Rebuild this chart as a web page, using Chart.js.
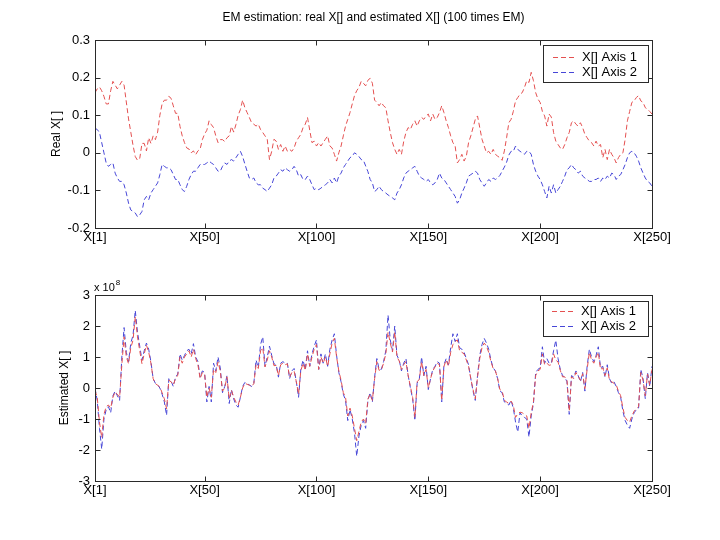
<!DOCTYPE html>
<html><head><meta charset="utf-8">
<script src="https://cdn.jsdelivr.net/npm/chart.js@4/dist/chart.umd.min.js"></script>
<style>
html,body{margin:0;padding:0;background:#fff;width:720px;height:540px;overflow:hidden}
.wrap{position:absolute;left:0;width:720px}
</style></head><body>
<div class="wrap" style="top:0;height:265px"><canvas id="c1" width="720" height="265"></canvas></div>
<div class="wrap" style="top:265px;height:275px"><canvas id="c2" width="720" height="275"></canvas></div>
<script>
const titleText = 'EM estimation: real X[] and estimated X[] (100 times EM)';
const seriesNames = ['X[] Axis 1', 'X[] Axis 2'];
const xTickValues = [1, 50, 100, 150, 200, 250];
const topYTicks = [-0.2, -0.1, 0, 0.1, 0.2, 0.3];
const bottomYTicks = [-3, -2, -1, 0, 1, 2, 3];
const bottomExponent = 8;

const realAxis1 = [
0.160,0.170,0.175,0.165,0.150,0.130,0.130,0.165,0.190,0.180,
0.170,0.180,0.190,0.180,0.135,0.090,0.055,0.020,-0.010,-0.020,
-0.015,0.025,0.025,0.005,0.040,0.025,0.045,0.035,0.055,0.100,
0.130,0.140,0.140,0.150,0.145,0.125,0.105,0.105,0.070,0.045,
0.027,0.013,0.010,0.000,0.005,-0.005,0.005,0.010,0.035,0.050,
0.060,0.085,0.075,0.067,0.045,0.027,0.035,0.035,0.030,0.040,
0.045,0.070,0.055,0.075,0.100,0.115,0.140,0.120,0.107,0.094,
0.080,0.076,0.071,0.076,0.062,0.054,0.045,0.036,-0.018,0.004,
0.036,0.031,0.009,0.022,0.004,0.018,0.004,0.009,0.004,0.013,
0.031,0.040,0.049,0.067,0.076,0.094,0.060,0.027,0.031,0.018,
0.027,0.018,0.027,0.036,0.045,0.018,0.013,-0.004,-0.022,0.000,
0.018,0.045,0.071,0.089,0.107,0.130,0.152,0.165,0.174,0.190,
0.185,0.178,0.193,0.198,0.185,0.140,0.134,0.125,0.134,0.125,
0.120,0.085,0.054,0.027,0.009,-0.004,0.009,-0.004,0.030,0.054,
0.067,0.062,0.076,0.085,0.071,0.085,0.094,0.089,0.098,0.103,
0.085,0.103,0.089,0.094,0.107,0.125,0.107,0.085,0.067,0.045,
0.027,0.018,-0.027,-0.018,-0.004,-0.022,-0.009,0.027,0.045,0.067,
0.089,0.098,0.067,0.036,0.018,0.000,0.004,-0.004,0.009,-0.004,
-0.009,-0.013,-0.020,0.005,0.040,0.080,0.089,0.110,0.138,0.147,
0.156,0.160,0.174,0.192,0.187,0.214,0.192,0.160,0.143,0.134,
0.110,0.098,0.071,0.103,0.095,0.054,0.031,0.022,0.013,0.009,
0.022,0.040,0.054,0.080,0.085,0.076,0.071,0.080,0.067,0.049,
0.040,0.031,0.027,0.018,0.031,0.018,0.022,-0.013,0.009,-0.018,
0.009,-0.004,-0.013,-0.027,-0.013,-0.004,0.000,0.036,0.085,0.110,
0.134,0.138,0.147,0.152,0.138,0.134,0.120,0.116,0.110,0.103
];
const realAxis2 = [
0.065,0.062,0.054,0.027,0.000,-0.027,-0.036,-0.031,-0.027,-0.054,
-0.067,-0.076,-0.076,-0.085,-0.107,-0.134,-0.152,-0.156,-0.160,-0.170,
-0.165,-0.156,-0.125,-0.116,-0.125,-0.107,-0.098,-0.089,-0.080,-0.058,
-0.031,-0.036,-0.040,-0.040,-0.045,-0.058,-0.071,-0.071,-0.085,-0.098,
-0.103,-0.089,-0.071,-0.058,-0.049,-0.049,-0.040,-0.031,-0.031,-0.031,
-0.027,-0.022,-0.027,-0.031,-0.040,-0.049,-0.049,-0.036,-0.027,-0.031,
-0.022,-0.018,-0.022,-0.013,-0.004,0.004,-0.010,-0.030,-0.049,-0.067,
-0.071,-0.067,-0.080,-0.085,-0.085,-0.094,-0.098,-0.103,-0.094,-0.085,
-0.067,-0.062,-0.054,-0.045,-0.049,-0.040,-0.045,-0.049,-0.045,-0.036,
-0.045,-0.062,-0.058,-0.071,-0.071,-0.062,-0.071,-0.085,-0.098,-0.094,
-0.098,-0.094,-0.089,-0.085,-0.080,-0.071,-0.080,-0.067,-0.080,-0.062,
-0.054,-0.040,-0.031,-0.022,-0.013,-0.009,0.000,-0.004,-0.010,-0.018,
-0.020,-0.035,-0.050,-0.071,-0.080,-0.103,-0.098,-0.089,-0.098,-0.103,
-0.107,-0.112,-0.116,-0.120,-0.125,-0.107,-0.098,-0.085,-0.067,-0.054,
-0.049,-0.045,-0.040,-0.036,-0.049,-0.062,-0.067,-0.071,-0.076,-0.071,
-0.080,-0.085,-0.080,-0.071,-0.054,-0.067,-0.071,-0.080,-0.089,-0.098,
-0.107,-0.116,-0.134,-0.125,-0.107,-0.094,-0.080,-0.062,-0.058,-0.054,
-0.049,-0.054,-0.071,-0.080,-0.089,-0.080,-0.071,-0.076,-0.067,-0.071,
-0.067,-0.060,-0.049,-0.038,-0.025,-0.006,0.004,0.004,0.018,0.009,
0.004,0.000,-0.004,0.004,0.004,-0.004,-0.031,-0.049,-0.062,-0.071,
-0.085,-0.103,-0.120,-0.089,-0.107,-0.085,-0.107,-0.098,-0.089,-0.076,
-0.062,-0.045,-0.040,-0.031,-0.040,-0.045,-0.054,-0.049,-0.062,-0.067,
-0.071,-0.076,-0.076,-0.071,-0.071,-0.067,-0.076,-0.067,-0.071,-0.062,
-0.067,-0.054,-0.058,-0.071,-0.062,-0.058,-0.045,-0.031,-0.013,0.000,
0.004,0.000,-0.009,-0.022,-0.040,-0.054,-0.067,-0.076,-0.080,-0.089
];
// estimated values, in units of 10^8
const estAxis1 = [
-0.08,-0.30,-1.10,-1.60,-0.85,-0.60,-0.55,-0.65,-0.30,-0.13,
-0.20,-0.30,0.75,1.65,1.00,0.78,1.30,1.54,2.30,1.65,
1.20,0.78,1.10,1.38,1.16,0.80,0.30,0.14,0.09,0.03,
-0.15,-0.35,-0.67,0.25,0.20,0.10,0.30,0.41,1.00,0.80,
1.00,1.10,1.20,1.00,1.25,0.95,0.75,0.30,0.50,0.45,
-0.30,0.00,-0.30,0.60,0.50,0.84,0.55,-0.10,0.00,0.36,
-0.35,-0.08,-0.30,-0.45,-0.55,-0.30,0.00,0.15,0.12,0.09,
0.05,0.14,0.75,0.63,1.20,1.30,0.68,0.90,1.20,1.00,
0.72,0.73,0.40,0.75,0.80,0.75,0.78,0.35,0.50,0.55,
0.20,-0.20,0.55,0.80,0.57,1.10,0.70,1.00,1.25,1.40,
0.60,1.00,0.80,1.00,0.70,1.10,1.45,1.60,1.00,0.55,
0.25,-0.15,-0.30,-0.90,-0.65,-0.90,-1.30,-1.70,-1.40,-1.10,
-1.00,-1.15,-0.35,-0.20,-0.40,0.30,0.85,0.57,0.58,0.80,
1.10,1.80,1.45,1.16,1.80,1.00,0.87,0.60,0.75,0.85,
0.40,0.05,-0.30,-0.95,0.20,0.28,0.85,0.40,0.60,0.00,
0.30,0.55,0.68,0.80,0.75,-0.40,0.70,0.90,0.70,1.15,
1.40,1.50,1.55,1.20,1.15,1.10,0.90,0.70,0.30,-0.05,
-0.35,0.35,0.95,1.30,1.45,1.35,1.15,0.85,0.63,0.55,
0.30,-0.05,-0.10,-0.40,-0.45,-0.50,-0.42,-0.56,-0.95,-0.83,
-0.78,-0.80,-0.85,-0.90,-1.30,-0.80,-0.45,0.40,0.55,0.60,
1.10,0.75,0.80,0.73,0.75,1.10,0.90,0.84,0.57,0.36,
0.36,0.25,-0.75,0.36,0.30,0.50,0.38,0.25,0.46,-0.02,
0.60,1.15,0.90,0.80,1.00,1.15,0.60,0.65,0.40,0.65,
0.25,0.20,0.15,0.10,-0.10,-0.25,-0.65,-0.95,-1.05,-1.10,
-0.90,-0.75,-0.67,-0.60,0.50,0.25,-0.25,0.45,0.10,0.60
];
const estAxis2 = [
0.00,-0.40,-1.30,-1.97,-1.00,-0.70,-0.60,-0.80,-0.25,-0.10,
-0.25,-0.40,1.00,1.95,1.15,0.85,1.45,1.70,2.50,1.80,
1.35,0.90,1.20,1.45,1.25,0.85,0.30,0.15,0.10,0.00,
-0.20,-0.45,-0.88,0.30,0.22,0.05,0.35,0.45,1.10,0.90,
1.05,1.20,1.25,1.10,1.43,1.00,0.85,0.35,0.55,0.50,
-0.45,0.05,-0.45,0.80,0.55,1.00,0.65,-0.15,0.05,0.40,
-0.50,-0.05,-0.35,-0.55,-0.62,-0.30,0.05,0.18,0.14,0.10,
0.05,0.15,0.90,0.65,1.40,1.65,0.70,1.00,1.35,1.05,
0.78,0.75,0.35,0.80,0.85,0.80,0.80,0.30,0.55,0.63,
0.20,-0.30,0.60,0.90,0.60,1.20,0.70,1.10,1.35,1.55,
0.60,1.10,0.80,1.10,0.70,1.25,1.55,1.75,1.05,0.50,
0.20,-0.20,-0.40,-1.05,-0.70,-1.00,-1.45,-2.20,-1.55,-1.20,
-1.05,-1.30,-0.40,-0.15,-0.45,0.35,0.95,0.60,0.60,0.85,
1.20,2.35,1.55,1.20,2.00,1.05,0.90,0.55,0.80,0.95,
0.40,0.00,-0.35,-1.05,0.15,0.30,1.00,0.40,0.70,-0.05,
0.30,0.60,0.70,0.85,0.80,-0.45,0.75,0.95,0.75,1.30,
1.75,1.50,1.75,1.30,1.25,1.15,0.95,0.75,0.30,-0.10,
-0.40,0.40,1.05,1.40,1.60,1.45,1.25,0.90,0.65,0.55,
0.30,-0.10,-0.15,-0.45,-0.50,-0.55,-0.40,-0.65,-1.10,-1.42,
-0.80,-0.90,-0.95,-1.00,-1.58,-0.90,-0.50,0.50,0.60,0.65,
1.33,0.80,0.95,0.80,0.80,1.20,1.54,0.95,0.60,0.40,
0.35,0.20,-0.85,0.40,0.35,0.55,0.40,0.20,0.50,-0.10,
0.70,1.25,1.00,0.85,1.05,1.33,0.65,0.70,0.35,0.75,
0.30,0.15,0.20,0.05,-0.15,-0.30,-0.75,-1.05,-1.20,-1.30,
-1.00,-0.80,-0.70,-0.65,0.60,0.30,-0.35,0.50,0.05,0.70
];
const indices = realAxis1.map((_, i) => i + 1);

const FONT = '"Liberation Sans", Arial, Helvetica, sans-serif';
const RED = 'rgb(228,80,80)';
const BLUE = 'rgb(70,70,215)';
const COLORS = [RED, BLUE];
const DASH = [5, 3];
const FRAME = '#2a2a2a';

function xy(vals) { return vals.map((v, i) => ({ x: indices[i], y: v })); }

const framePlugin = {
  id: 'frame',
  afterDatasetsDraw(chart, args, opts) {
    const { ctx, chartArea: a, scales: { x, y } } = chart;
    ctx.save();
    ctx.strokeStyle = FRAME;
    ctx.lineWidth = 1;
    const L = Math.round(a.left) + 0.5, R = Math.round(a.right) + 0.5;
    const T = Math.round(a.top) + 0.5, B = Math.round(a.bottom) + 0.5;
    ctx.strokeRect(L, T, R - L, B - T);
    ctx.beginPath();
    xTickValues.forEach(v => {
      const px = Math.round(x.getPixelForValue(v)) + 0.5;
      ctx.moveTo(px, B); ctx.lineTo(px, B - 5);
      ctx.moveTo(px, T); ctx.lineTo(px, T + 5);
    });
    opts.yTicks.forEach(v => {
      const py = Math.round(y.getPixelForValue(v)) + 0.5;
      ctx.moveTo(L, py); ctx.lineTo(L + 5, py);
      ctx.moveTo(R, py); ctx.lineTo(R - 5, py);
    });
    ctx.stroke();
    // legend
    const lg = opts.legend;
    ctx.fillStyle = '#fff';
    ctx.fillRect(lg.x + 0.5, lg.y + 0.5, lg.w, lg.h);
    ctx.strokeStyle = FRAME;
    ctx.strokeRect(lg.x + 0.5, lg.y + 0.5, lg.w, lg.h);
    seriesNames.forEach((name, i) => {
      const ry = Math.round(lg.rows[i]) + 0.5;
      ctx.save();
      ctx.strokeStyle = COLORS[i];
      ctx.lineWidth = 1;
      ctx.setLineDash(DASH);
      ctx.beginPath();
      ctx.moveTo(lg.lineX0, ry); ctx.lineTo(lg.lineX1, ry);
      ctx.stroke();
      ctx.restore();
      ctx.fillStyle = '#000';
      ctx.font = '13px ' + FONT;
      ctx.textAlign = 'left';
      ctx.textBaseline = 'middle';
      ctx.fillText(name, lg.textX, lg.rows[i]);
    });
    // texts
    ctx.fillStyle = '#000';
    (opts.texts || []).forEach(t => {
      ctx.save();
      ctx.font = t.size + 'px ' + FONT;
      ctx.textAlign = t.align || 'center';
      ctx.textBaseline = 'middle';
      ctx.translate(t.x, t.y);
      if (t.rot) ctx.rotate(t.rot);
      ctx.fillText(t.text, 0, 0);
      ctx.restore();
    });
    ctx.restore();
  }
};

function makeOptions(yMin, yMax, yTicks, fmt, topPad, xAxisH, legend, texts) {
  return {
    responsive: false,
    animation: false,
    layout: { padding: { top: topPad, right: 68, left: 0, bottom: 0 } },
    plugins: {
      legend: { display: false },
      tooltip: { enabled: false },
      frame: { yTicks, legend, texts }
    },
    scales: {
      x: {
        type: 'linear', min: 1, max: 250,
        afterBuildTicks: s => { s.ticks = xTickValues.map(v => ({ value: v })); },
        ticks: { callback: v => 'X[' + v + ']', color: '#000', font: { family: FONT, size: 13 }, padding: 2, maxRotation: 0, autoSkip: false },
        grid: { display: false, drawTicks: false },
        border: { display: false },
        afterFit: s => { s.height = xAxisH; }
      },
      y: {
        min: yMin, max: yMax,
        afterBuildTicks: s => { s.ticks = yTicks.map(v => ({ value: v })); },
        ticks: { callback: fmt, color: '#000', font: { family: FONT, size: 13 }, padding: 5 },
        grid: { display: false, drawTicks: false },
        border: { display: false },
        afterFit: s => { s.width = 95; }
      }
    }
  };
}

function ds(label, vals, color) {
  return { label, data: xy(vals), borderColor: color, backgroundColor: color, borderWidth: 1, borderDash: DASH, pointRadius: 0, fill: false, tension: 0 };
}

new Chart(document.getElementById('c1'), {
  type: 'line',
  data: { datasets: [ds(seriesNames[0], realAxis1, RED), ds(seriesNames[1], realAxis2, BLUE)] },
  options: makeOptions(-0.2, 0.3, topYTicks, v => Math.abs(v) < 1e-9 ? '0' : v.toFixed(1), 40, 37,
    { x: 543, y: 45, w: 105, h: 37, rows: [57, 72], lineX0: 553, lineX1: 576, textX: 582 },
    [
      { text: titleText, x: 373.5, y: 18, size: 12 },
      { text: 'Real X[ ]', x: 57, y: 134, size: 12, rot: -Math.PI / 2 }
    ]),
  plugins: [framePlugin]
});

const expPlugin = {
  id: 'expLabel',
  afterDraw(chart) {
    const ctx = chart.ctx;
    ctx.save();
    ctx.fillStyle = '#000';
    ctx.textBaseline = 'alphabetic';
    ctx.textAlign = 'left';
    ctx.font = '11px ' + FONT;
    const base = 'x 10';
    ctx.fillText(base, chart.chartArea.left - 1, 26);
    const w = ctx.measureText(base).width;
    ctx.font = '8px ' + FONT;
    ctx.fillText(String(bottomExponent), chart.chartArea.left - 1 + w + 1, 20);
    ctx.restore();
  }
};

new Chart(document.getElementById('c2'), {
  type: 'line',
  data: { datasets: [ds(seriesNames[0], estAxis1, RED), ds(seriesNames[1], estAxis2, BLUE)] },
  options: makeOptions(-3, 3, bottomYTicks, v => String(v), 30, 59,
    { x: 543, y: 36, w: 105, h: 35, rows: [46, 61], lineX0: 552, lineX1: 575, textX: 581 },
    [
      { text: 'Estimated X[ ]', x: 65, y: 123, size: 12, rot: -Math.PI / 2 }
    ]),
  plugins: [framePlugin, expPlugin]
});
</script>
</body></html>
